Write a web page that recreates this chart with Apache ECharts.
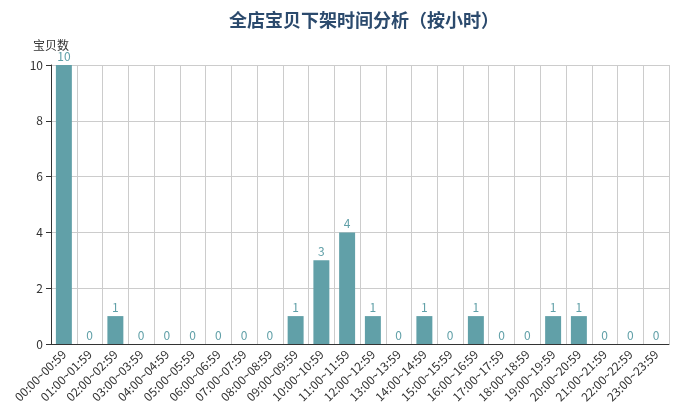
<!DOCTYPE html>
<html><head><meta charset="utf-8">
<script src="https://cdn.jsdelivr.net/npm/echarts@6/dist/echarts.min.js"></script>
<style>html,body{margin:0;padding:0;background:#fff}#c{width:685px;height:409px}</style>
</head><body><div id="c"></div>
<script>
const titleText = '全店宝贝下架时间分析（按小时）';
const yName = '宝贝数';
const categories = ['00:00~00:59','01:00~01:59','02:00~02:59','03:00~03:59','04:00~04:59','05:00~05:59','06:00~06:59','07:00~07:59','08:00~08:59','09:00~09:59','10:00~10:59','11:00~11:59','12:00~12:59','13:00~13:59','14:00~14:59','15:00~15:59','16:00~16:59','17:00~17:59','18:00~18:59','19:00~19:59','20:00~20:59','21:00~21:59','22:00~22:59','23:00~23:59'];
const counts = [10,0,1,0,0,0,0,0,0,1,3,4,1,0,1,0,1,0,0,1,1,0,0,0];
const yTicks = {min:0, max:10, interval:2};

const font = '"Microsoft YaHei","Noto Sans CJK SC",sans-serif';
const chart = echarts.init(document.getElementById('c'));
chart.setOption({
  animation:false,
  textStyle:{fontFamily:font},
  title:{text:titleText,left:224,top:6,textStyle:{fontSize:18,fontWeight:'bold',color:'#2b4a6d',fontFamily:font}},
  grid:{left:51,right:16,top:65,bottom:65},
  xAxis:{type:'category',data:categories,
    axisLine:{lineStyle:{color:'#333'}},
    axisTick:{lineStyle:{color:'#333'}},
    axisLabel:{rotate:45,interval:0,color:'#333',fontSize:12,margin:8},
    splitLine:{show:true,lineStyle:{color:'#ccc'}}},
  yAxis:{type:'value',name:yName,min:yTicks.min,max:yTicks.max,interval:yTicks.interval,
    nameTextStyle:{color:'#333',fontSize:12,padding:[0,0,0,0]},nameGap:14,
    axisLine:{show:true,lineStyle:{color:'#333'}},
    axisTick:{show:true,lineStyle:{color:'#333'}},
    axisLabel:{color:'#333',fontSize:12},
    splitLine:{lineStyle:{color:'#ccc'}}},
  series:[{type:'bar',data:counts,barWidth:'62%',itemStyle:{color:'#61a0a8'},
    label:{show:true,position:'top',color:'#61a0a8',fontSize:12,distance:3}}]
});
</script></body></html>
